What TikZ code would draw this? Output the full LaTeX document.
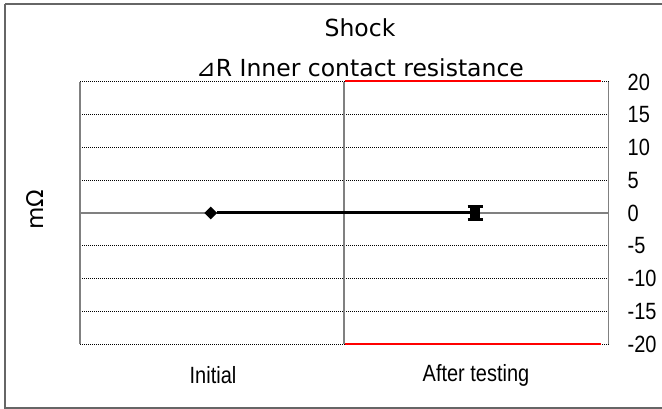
\documentclass[tikz,border=0pt]{standalone}
\usepackage{fontspec}
\setmainfont{Liberation Sans}
\newfontfamily\narrowfont[FakeStretch=0.85]{Liberation Sans}
\newfontfamily\gothic{DejaVu Sans}
\usetikzlibrary{shapes.geometric}
\definecolor{axred}{RGB}{255,0,0}
\begin{document}
\begin{tikzpicture}[x=1pt,y=-1pt,
  frameline/.style={draw=black!60,line width=1.5pt},
  axisline/.style={draw=black!50,line width=1.2pt},
  gridline/.style={draw=black,line width=1pt,dash pattern=on 1pt off 1pt},
  redline/.style={draw=axred,line width=2pt},
  ticklbl/.style={anchor=west,inner sep=0pt,font=\narrowfont\fontsize{23.5}{28}\selectfont},
  catlbl/.style={inner sep=0pt,font=\narrowfont\fontsize{23.5}{28}\selectfont},
  titlelbl/.style={inner sep=0pt,font=\gothic\fontsize{23.5}{28}\selectfont},
  unitlbl/.style={inner sep=0pt,font=\gothic\fontsize{23}{28}\selectfont},
  series/.style={draw=black,line width=3pt}]
\useasboundingbox (0,0) rectangle (662,409);
% outer frame
\draw[frameline] (5,4) -- (5,408) -- (662,408);
\draw[frameline] (5,4) -- (662,4);
% grid lines
\foreach \v in {20,15,10,5,-5,-10,-15,-20} {
  \draw[gridline] (80,{213-\v*6.55}) -- (608.5,{213-\v*6.55});
}
% zero line and axes
\draw[axisline] (80,213) -- (608.5,213);
\draw[axisline] (80,82) -- (80,344);
\draw[axisline] (608.5,82) -- (608.5,344);
\draw[axisline] (344,82) -- (344,344);
% tick labels
\foreach \v in {20,15,10,5,0,-5,-10,-15,-20} {
  \node[ticklbl] (t\v) at (627.5,{213-\v*6.55}) {\v};
}
% category labels
\node[catlbl] (cinit) at (213,375) {Initial};
\node[catlbl] (cafter) at (476,375) {After testing};
% titles
\node[titlelbl] (title1) at (360,28) {Shock};
\node[titlelbl] (title2) at (360,68) {⊿R Inner contact resistance};
% y axis label
\node[unitlbl,rotate=90] (ylbl) at (35,210) {mΩ};
% data
\node[diamond,fill=black,inner sep=0pt,minimum size=13pt] (p1) at (210.7,213) {};
\node[rectangle,fill=black,inner sep=0pt,minimum width=10pt,minimum height=10pt] (p2) at (475,213) {};
\draw[series] (p1) -- (p2);
% error bar
\draw[line width=3pt] (p2.center) ++(0,-6) -- ++(0,12);
\draw[line width=3pt] (p2.center) ++(-7.5,-6.5) -- ++(15,0);
\draw[line width=3pt] (p2.center) ++(-7.5,6.5) -- ++(15,0);
% red lines on right half
\draw[redline] (345,81.5) -- (601,81.5);
\draw[redline] (345,343.5) -- (601,343.5);
\end{tikzpicture}
\end{document}
